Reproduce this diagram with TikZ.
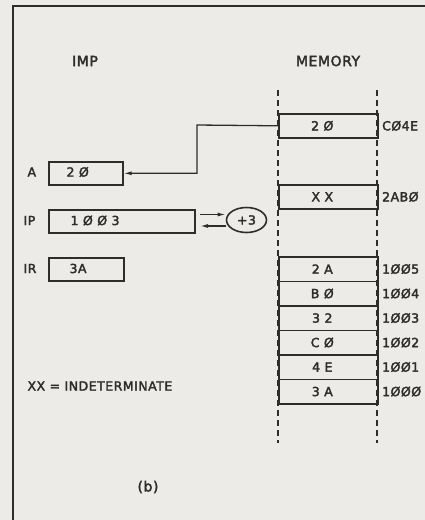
\documentclass[tikz,border=0pt]{standalone}
\usepackage{fontspec}
\setmainfont{DejaVu Sans}[LetterSpace=4]
\newfontfamily\inkfont{DejaVu Sans}[FakeBold=2.5,LetterSpace=4]
\usetikzlibrary{arrows.meta,shapes.geometric}
\definecolor{bg}{RGB}{237,235,231}
\definecolor{ink}{RGB}{45,45,43}
\begin{document}
\begin{tikzpicture}[x=1pt,y=-1pt,line width=1.1pt,
  every node/.style={text=ink,font=\inkfont\fontsize{12.5}{14}\selectfont},
  reg/.style={draw=ink,line width=1.6pt,inner sep=0pt,anchor=north west,minimum height=23pt},
  regtext/.style={anchor=west,inner sep=0pt},
  reglabel/.style={anchor=west,inner sep=0pt},
  cell/.style={draw=ink,line width=1.6pt,inner sep=0pt,minimum width=99pt,anchor=north west},
  celltext/.style={text=ink,font=\inkfont\fontsize{12.5}{14}\selectfont,xshift=-6pt},
  addr/.style={anchor=west,inner sep=0pt,xshift=3pt},
  head/.style={font=\inkfont\fontsize{14}{16}\selectfont},
  dashline/.style={draw=ink,line width=1.5pt,dash pattern=on 6pt off 4pt},
  wire/.style={draw=ink,line width=1.3pt},
  tip/.style={-{Latex[length=8pt,width=4pt]}}]
\fill[bg] (0,0) rectangle (425,520);
\useasboundingbox (0,0) rectangle (425,520);
% frame
\draw[ink,line width=1.8pt] (13,520) -- (13,6) -- (425,6);
% headings
\node[head] (imp) at (85,61) {IMP};
\node[head] (mem) at (328,61) {MEMORY};
% memory dashed rails
\draw[dashline] (278,90) -- (278,443);
\draw[dashline] (377,90) -- (377,443);
% memory cells
\node[cell,minimum height=24pt,label={[celltext]center:2 Ø}] (mC) at (278,113) {};
\node[cell,minimum height=24pt,label={[celltext]center:X X}] (mX) at (278,184) {};
\node[cell,minimum height=24.5pt,label={[celltext]center:2 A}] (m5) at (278,256) {};
\node[cell,minimum height=24.5pt,label={[celltext]center:B Ø}] (m4) at (278,280.5) {};
\node[cell,minimum height=24.5pt,label={[celltext]center:3 2}] (m3) at (278,305) {};
\node[cell,minimum height=24.5pt,label={[celltext]center:C Ø}] (m2) at (278,329.5) {};
\node[cell,minimum height=24.5pt,label={[celltext]center:4 E}] (m1) at (278,354) {};
\node[cell,minimum height=24.5pt,label={[celltext]center:3 A}] (m0) at (278,378.5) {};
% addresses
\node[addr] (aC) at (mC.east) {CØ4E};
\node[addr] (aX) at (mX.east) {2ABØ};
\node[addr] (a5) at (m5.east) {1ØØ5};
\node[addr] (a4) at (m4.east) {1ØØ4};
\node[addr] (a3) at (m3.east) {1ØØ3};
\node[addr] (a2) at (m2.east) {1ØØ2};
\node[addr] (a1) at (m1.east) {1ØØ1};
\node[addr] (a0) at (m0.east) {1ØØØ};
% registers
\node[reg,minimum width=74pt] (rA) at (48,161) {};
\node[reg,minimum width=146pt] (rIP) at (48,209) {};
\node[reg,minimum width=75pt] (rIR) at (48,257) {};
\node[reglabel] (lA) at (27,172) {A};
\node[reglabel] (lIP) at (23,220.5) {IP};
\node[reglabel] (lIR) at (23,268.5) {IR};
\node[regtext] (vA) at (66,172) {2 Ø};
\node[regtext] (vIP) at (70,220.5) {1 Ø Ø 3};
\node[regtext] (vIR) at (69,268.5) {3A};
% +3
\node[draw=ink,ellipse,line width=1.6pt,minimum width=40pt,minimum height=25pt,inner sep=0pt] (inc) at (246.5,220) {+3};
% connectors
\coordinate (bend) at (197,125);
\draw[wire,tip] (mC.west) -- (bend) |- (rA.east);
\coordinate (ipU) at (200,214.5);
\coordinate (ipL) at (200,226);
\draw[wire,tip] (ipU) -- (inc.west |- ipU);
\draw[wire,tip] (inc.west |- ipL) -- (ipL);
% legend and caption
\node[anchor=west,inner sep=0pt] (xx) at (27,386) {XX = INDETERMINATE};
\node[font=\inkfont\fontsize{14}{16}\selectfont] (cap) at (148,487) {(b)};
\end{tikzpicture}
\end{document}
